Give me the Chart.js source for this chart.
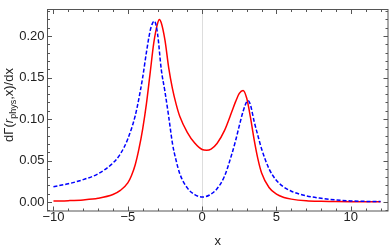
<!DOCTYPE html>
<html>
<head>
<meta charset="utf-8">
<script src="https://cdn.jsdelivr.net/npm/chart.js@4.4.0/dist/chart.umd.min.js"></script>
<style>
  html, body { margin: 0; padding: 0; background: #fff; }
</style>
</head>
<body>
<canvas id="rateChart" width="390" height="249"></canvas>
<script>
// red solid curve
var redX = [-10, -9, -8, -7, -6, -5.5, -5, -4.75, -4.5, -4.25, -4, -3.75, -3.5, -3.25, -3, -2.88, -2.75, -2.5, -2.25, -2, -1.75, -1.5, -1, -0.5, 0, 0.3, 0.6, 1, 1.5, 2, 2.25, 2.5, 2.75, 3, 3.25, 3.5, 3.75, 4, 4.5, 5, 5.5, 6, 7, 8, 9, 10, 11, 12];
var redY = [0.0012, 0.0017, 0.0026, 0.0045, 0.009, 0.014, 0.023, 0.032, 0.045, 0.064, 0.088, 0.118, 0.155, 0.192, 0.215, 0.220, 0.216, 0.195, 0.162, 0.137, 0.118, 0.103, 0.084, 0.071, 0.0633, 0.0625, 0.0638, 0.0705, 0.086, 0.109, 0.121, 0.131, 0.1345, 0.125, 0.102, 0.075, 0.052, 0.035, 0.0175, 0.0095, 0.0055, 0.0035, 0.0015, 0.0008, 0.0005, 0.0003, 0.0002, 0.0002];

// blue dashed curve
var blueX = [-10, -9, -8, -7, -6, -5.5, -5, -4.5, -4.25, -4, -3.75, -3.5, -3.35, -3.21, -3, -2.75, -2.5, -2.25, -2, -1.75, -1.5, -1, -0.5, 0, 0.5, 1, 1.5, 2, 2.25, 2.5, 2.75, 3, 3.1, 3.25, 3.5, 3.75, 4, 4.5, 5, 5.5, 6, 7, 8, 9, 10, 11, 12];
var blueY = [0.0185, 0.022, 0.027, 0.034, 0.047, 0.058, 0.076, 0.104, 0.125, 0.150, 0.180, 0.206, 0.215, 0.218, 0.203, 0.160, 0.133, 0.103, 0.071, 0.050, 0.034, 0.017, 0.009, 0.006, 0.0085, 0.016, 0.031, 0.058, 0.074, 0.092, 0.109, 0.121, 0.122, 0.117, 0.097, 0.080, 0.064, 0.040, 0.026, 0.018, 0.013, 0.0075, 0.0045, 0.0025, 0.0013, 0.0008, 0.0005];

var xTicks = [-10, -5, 0, 5, 10];
var yTicks = [0, 0.05, 0.10, 0.15, 0.20];
var xMinor = [-10, -9, -8, -7, -6, -5, -4, -3, -2, -1, 0, 1, 2, 3, 4, 5, 6, 7, 8, 9, 10, 11, 12];
var yMinor = [-0.01, 0, 0.01, 0.02, 0.03, 0.04, 0.05, 0.06, 0.07, 0.08, 0.09, 0.10, 0.11, 0.12, 0.13, 0.14, 0.15, 0.16, 0.17, 0.18, 0.19, 0.20, 0.21, 0.22, 0.23];

function pairs(xs, ys) {
  return xs.map(function (x, i) { return { x: x, y: ys[i] }; });
}

var frameColor = '#555';
var textColor = '#222';

// frame box with inward ticks on all four sides
var framePlugin = {
  id: 'frame',
  afterDraw: function (chart) {
    var c = chart.ctx, a = chart.chartArea;
    var xs = chart.scales.x, ys = chart.scales.y;
    c.save();
    c.strokeStyle = frameColor;
    c.lineWidth = 1;
    c.strokeRect(a.left, a.top, a.right - a.left, a.bottom - a.top);
    c.beginPath();
    xMinor.forEach(function (v) {
      var p = Math.round(xs.getPixelForValue(v)) + 0.5;
      var len = xTicks.indexOf(v) >= 0 ? 4.5 : 2.5;
      c.moveTo(p, a.bottom); c.lineTo(p, a.bottom - len);
      c.moveTo(p, a.top); c.lineTo(p, a.top + len);
    });
    yMinor.forEach(function (v) {
      var p = Math.round(ys.getPixelForValue(v)) + 0.5;
      var major = yTicks.some(function (t) { return Math.abs(t - v) < 1e-9; });
      var len = major ? 4.5 : 2.5;
      c.moveTo(a.left, p); c.lineTo(a.left + len, p);
      c.moveTo(a.right, p); c.lineTo(a.right - len, p);
    });
    c.stroke();

    // y axis label with subscript
    var parts = [
      { t: 'd\u0393(', f: '13px Arial', dy: 0 },
      { t: 'r', f: 'italic 13px Arial', dy: 0 },
      { t: 'phys', f: '9px Arial', dy: 3 },
      { t: ',x)/dx', f: '13px Arial', dy: 0 }
    ];
    var total = 0;
    parts.forEach(function (p) { c.font = p.f; p.w = c.measureText(p.t).width; total += p.w; });
    c.translate(13, 105);
    c.rotate(-Math.PI / 2);
    c.fillStyle = textColor;
    c.textBaseline = 'alphabetic';
    c.textAlign = 'left';
    var pos = -total / 2;
    parts.forEach(function (p) {
      c.font = p.f;
      c.fillText(p.t, pos, p.dy);
      pos += p.w;
    });
    c.restore();
  }
};

var ctx = document.getElementById('rateChart').getContext('2d');
var chart = new Chart(ctx, {
  type: 'scatter',
  data: {
    datasets: [{
      label: 'blue',
      data: pairs(blueX, blueY),
      showLine: true,
      borderColor: '#0000ff',
      borderWidth: 1.5,
      borderDash: [4, 2],
      pointRadius: 0,
      cubicInterpolationMode: 'monotone'
    }, {
      label: 'red',
      data: pairs(redX, redY),
      showLine: true,
      borderColor: '#ff0000',
      borderWidth: 1.5,
      pointRadius: 0,
      cubicInterpolationMode: 'monotone'
    }]
  },
  options: {
    responsive: false,
    animation: false,
    devicePixelRatio: 1,
    layout: { padding: { top: 2, right: 2, left: 0, bottom: 0 } },
    plugins: {
      legend: { display: false },
      tooltip: { enabled: false }
    },
    scales: {
      x: {
        type: 'linear',
        min: -10.4,
        max: 12.5,
        afterFit: function (s) { s.height = 38; },
        afterBuildTicks: function (s) { s.ticks = xTicks.map(function (v) { return { value: v }; }); },
        border: { display: false },
        grid: {
          drawTicks: false,
          color: function (c) { return c.tick && c.tick.value === 0 ? '#dddddd' : 'rgba(0,0,0,0)'; },
          lineWidth: 1
        },
        ticks: {
          padding: 0,
          color: textColor,
          font: { family: 'Arial', size: 13, lineHeight: 1 },
          maxRotation: 0,
          callback: function (v) { return String(v).replace('-', '\u2212'); }
        },
        title: {
          display: true,
          text: 'x',
          color: textColor,
          font: { family: 'Arial', size: 13, lineHeight: 1 },
          padding: { top: 0, bottom: 1 }
        }
      },
      y: {
        type: 'linear',
        min: -0.0108,
        max: 0.232,
        afterFit: function (s) { s.width = 47.5; },
        afterBuildTicks: function (s) { s.ticks = yTicks.map(function (v) { return { value: v }; }); },
        border: { display: false },
        grid: { display: false, drawTicks: false },
        ticks: {
          padding: 3,
          color: textColor,
          font: { family: 'Arial', size: 13, lineHeight: 1 },
          callback: function (v) { return v.toFixed(2); }
        }
      }
    }
  },
  plugins: [framePlugin]
});
</script>
</body>
</html>
